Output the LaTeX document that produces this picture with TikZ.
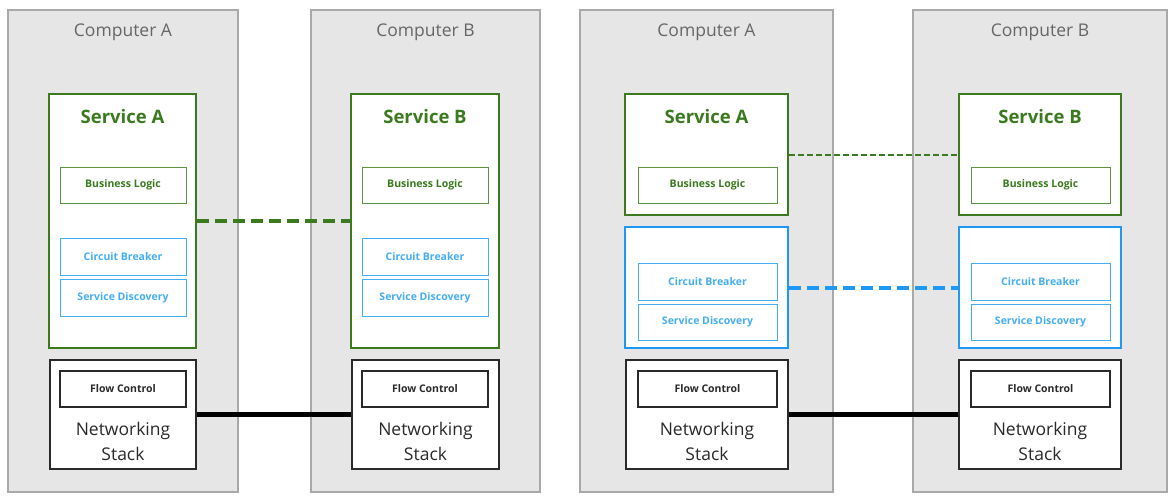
\documentclass[tikz,border=0pt]{standalone}
\usepackage{fontspec}
\setmainfont{Open Sans}
\definecolor{cgray}{HTML}{E6E6E6}
\definecolor{cgrayb}{HTML}{A9A9A9}
\definecolor{cgtext}{HTML}{666666}
\definecolor{cgreen}{HTML}{3B7A1F}
\definecolor{cgreenl}{HTML}{5E9240}
\definecolor{cblue}{HTML}{1E98F2}
\definecolor{cbluel}{HTML}{45AEF2}
\definecolor{cdark}{HTML}{2A2A2A}
\begin{document}
\begin{tikzpicture}[x=1pt,y=-1pt,
  computer/.style={draw=cgrayb,fill=cgray,line width=1.2pt,minimum height=482pt,inner sep=0pt},
  svcbox/.style={draw=cgreen,fill=white,line width=2pt,inner sep=0pt},
  bluebox/.style={draw=cblue,fill=white,line width=2pt,inner sep=0pt},
  netbox/.style={draw=cdark,fill=white,line width=1.3pt,inner sep=0pt,minimum height=109pt},
  glbox/.style={draw=cgreenl,line width=1pt,minimum height=36pt,inner sep=0pt,text=cgreen,font=\fontsize{10.5}{12}\selectfont\bfseries},
  blbox/.style={draw=cbluel,line width=1pt,minimum height=37pt,inner sep=0pt,text=cbluel,font=\fontsize{10.5}{12}\selectfont\bfseries},
  fcbox/.style={draw=cdark,line width=1.2pt,minimum height=36pt,inner sep=0pt,text=cdark,font=\fontsize{10.5}{12}\selectfont\bfseries},
  comptitle/.style={text=cgtext,font=\fontsize{17.5}{20}\selectfont},
  svctitle/.style={text=cgreen,font=\fontsize{18.5}{22}\selectfont\bfseries},
  nettext/.style={text=cdark,align=center,font=\fontsize{17.5}{25}\selectfont},
  gdash/.style={draw=cgreen,line width=4pt,dash pattern=on 12pt off 6pt},
  gdashthin/.style={draw=cgreen,line width=2pt,dash pattern=on 6pt off 3pt},
  bdash/.style={draw=cblue,line width=4pt,dash pattern=on 12pt off 6pt},
  wire/.style={draw=black,line width=4.5pt}]
\useasboundingbox (0,0) rectangle (1173,498);
\fill[white] (0,0) rectangle (1173,498);
% ---------------- left half ----------------
\node[computer,minimum width=230pt] (cA1) at (123,251) {};
\node[computer,minimum width=229pt] (cB1) at (425.5,251) {};
\node[comptitle] (tA1) at (123,32) {Computer A};
\node[comptitle] (tB1) at (425.5,32) {Computer B};
\node[svcbox,minimum width=147pt,minimum height=254pt] (sA1) at (122.5,221) {};
\node[svcbox,minimum width=148pt,minimum height=254pt] (sB1) at (425,221) {};
\node[svctitle] (stA1) at (122.5,117) {Service A};
\node[svctitle] (stB1) at (425,117) {Service B};
\node[glbox,minimum width=126pt] (blA1) at (123,185) {Business Logic};
\node[glbox,minimum width=126pt] (blB1) at (425,185) {Business Logic};
\node[blbox,minimum width=126pt] (cbA1) at (123,256.5) {Circuit Breaker};
\node[blbox,minimum width=126pt] (cbB1) at (425,256.5) {Circuit Breaker};
\node[blbox,minimum width=126pt] (sdA1) at (123,297.5) {Service Discovery};
\node[blbox,minimum width=126pt] (sdB1) at (425,297.5) {Service Discovery};
\node[netbox,minimum width=146pt] (nA1) at (123,414.5) {};
\node[netbox,minimum width=147pt] (nB1) at (425.5,414.5) {};
\node[fcbox,minimum width=126pt] (fA1) at (123,389) {Flow Control};
\node[fcbox,minimum width=126pt] (fB1) at (425,389) {Flow Control};
\node[nettext] (ntA1) at (123,441) {Networking\\Stack};
\node[nettext] (ntB1) at (425.5,441) {Networking\\Stack};
\draw[gdash] (sA1.east) -- (sB1.west);
\draw[wire] (nA1.east) -- (nB1.west);
% ---------------- right half ----------------
\node[computer,minimum width=253pt] (cA2) at (706.5,251) {};
\node[computer,minimum width=254pt] (cB2) at (1040,251) {};
\node[comptitle] (tA2) at (706.5,32) {Computer A};
\node[comptitle] (tB2) at (1040,32) {Computer B};
\node[svcbox,minimum width=163pt,minimum height=121pt] (sA2) at (706.5,154.5) {};
\node[svcbox,minimum width=162pt,minimum height=121pt] (sB2) at (1040,154.5) {};
\node[svctitle] (stA2) at (706.5,117) {Service A};
\node[svctitle] (stB2) at (1040,117) {Service B};
\node[glbox,minimum width=139pt] (blA2) at (707.5,185) {Business Logic};
\node[glbox,minimum width=139pt] (blB2) at (1040.5,185) {Business Logic};
\node[bluebox,minimum width=163pt,minimum height=121pt] (bA2) at (706.5,287.5) {};
\node[bluebox,minimum width=162pt,minimum height=121pt] (bB2) at (1040,287.5) {};
\node[blbox,minimum width=139pt] (cbA2) at (707.5,281.5) {Circuit Breaker};
\node[blbox,minimum width=139pt] (cbB2) at (1040.5,281.5) {Circuit Breaker};
\node[blbox,minimum width=139pt,minimum height=36pt] (sdA2) at (707.5,322) {Service Discovery};
\node[blbox,minimum width=139pt,minimum height=36pt] (sdB2) at (1040.5,322) {Service Discovery};
\node[netbox,minimum width=162pt] (nA2) at (707,414.5) {};
\node[netbox,minimum width=162pt] (nB2) at (1040,414.5) {};
\node[fcbox,minimum width=139pt] (fA2) at (707.5,389) {Flow Control};
\node[fcbox,minimum width=139pt] (fB2) at (1040.5,389) {Flow Control};
\node[nettext] (ntA2) at (707,441) {Networking\\Stack};
\node[nettext] (ntB2) at (1040,441) {Networking\\Stack};
\draw[gdashthin] (sA2.east) -- (sB2.west);
\draw[bdash] (bA2.east) -- (bB2.west);
\draw[wire] (nA2.east) -- (nB2.west);
\end{tikzpicture}
\end{document}
